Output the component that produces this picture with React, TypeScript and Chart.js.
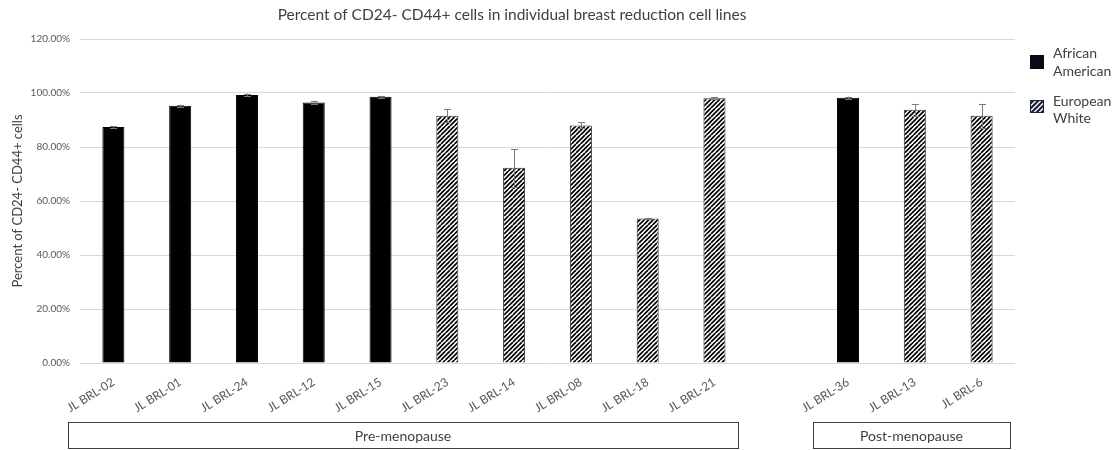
import { useEffect, useRef } from "react";
import { Chart, registerables } from "chart.js";

Chart.register(...registerables);

// Cell lines along the x axis; the empty slot separates the two menopause groups
const cellLines = [
  "JL BRL-02", "JL BRL-01", "JL BRL-24", "JL BRL-12", "JL BRL-15",
  "JL BRL-23", "JL BRL-14", "JL BRL-08", "JL BRL-18", "JL BRL-21",
  "",
  "JL BRL-36", "JL BRL-13", "JL BRL-6",
];

// Percent of CD24- CD44+ cells, split by donor ancestry
const africanAmerican = [87.4, 95.3, 99.3, 96.5, 98.6, null, null, null, null, null, null, 98.2, null, null];
const europeanWhite = [null, null, null, null, null, 91.6, 72.3, 88.0, 53.5, 98.1, null, null, 93.8, 91.6];

// Standard error for each cell line
const errorValues = [0.3, 0.4, 0.5, 0.6, 0.4, 2.5, 7.0, 1.1, 0.3, 0.4, null, 0.5, 2.2, 4.4];

const yTickValues = [0, 20, 40, 60, 80, 100, 120];

const groupLabels = ["Pre-menopause", "Post-menopause"];
const legendLabels = [["African", "American"], ["European", "White"]];

const chartTitle = "Percent of CD24- CD44+ cells in individual breast reduction cell lines";
const yAxisTitle = "Percent of CD24- CD44+ cells";

const FONT = "Lato, 'Open Sans', sans-serif";
const TEXT = "#404040";
const TICK = "#595959";

// Diagonal "/" hatching with a 4.5px period
function makeHatch(color: string, lineWidth: number) {
  const size = 9;
  const c = document.createElement("canvas");
  c.width = size;
  c.height = size;
  const g = c.getContext("2d")!;
  g.fillStyle = "#ffffff";
  g.fillRect(0, 0, size, size);
  g.strokeStyle = color;
  g.lineWidth = lineWidth;
  g.beginPath();
  for (let k = -9; k <= 27; k += 4.5) {
    g.moveTo(k, 0);
    g.lineTo(k - size, size);
  }
  g.stroke();
  return g.createPattern(c, "repeat")!;
}

// Error bars, title, axis title, legend and group boxes
const decorations = {
  id: "decorations",
  afterDatasetsDraw(chart: any) {
    const { ctx } = chart;
    const x = chart.scales.x;
    const y = chart.scales.y;
    ctx.save();
    ctx.strokeStyle = "#7a7a7a";
    ctx.lineWidth = 1;
    errorValues.forEach((err, i) => {
      const v = africanAmerican[i] ?? europeanWhite[i];
      if (v == null || err == null) return;
      const px = Math.round(x.getPixelForValue(i)) + 0.5;
      const top = y.getPixelForValue(v + err);
      const bot = y.getPixelForValue(v - err);
      ctx.beginPath();
      ctx.moveTo(px, top);
      ctx.lineTo(px, bot);
      ctx.moveTo(px - 3.5, Math.round(top) + 0.5);
      ctx.lineTo(px + 3.5, Math.round(top) + 0.5);
      ctx.moveTo(px - 3.5, Math.round(bot) + 0.5);
      ctx.lineTo(px + 3.5, Math.round(bot) + 0.5);
      ctx.stroke();
    });
    ctx.restore();
  },
  afterDraw(chart: any) {
    const { ctx } = chart;
    ctx.save();
    ctx.textBaseline = "middle";

    // Title
    ctx.fillStyle = TEXT;
    ctx.textAlign = "center";
    ctx.font = `15.5px ${FONT}`;
    ctx.fillText(chartTitle, 512, 15);

    // Y axis title
    ctx.save();
    ctx.translate(18, (chart.chartArea.top + chart.chartArea.bottom) / 2);
    ctx.rotate(-Math.PI / 2);
    ctx.font = `13px ${FONT}`;
    ctx.fillText(yAxisTitle, 0, 0);
    ctx.restore();

    // Legend
    ctx.textAlign = "left";
    ctx.font = `14px ${FONT}`;
    ctx.fillStyle = "#0a0a16";
    ctx.fillRect(1030, 55, 14, 14);
    ctx.fillStyle = TEXT;
    ctx.fillText(legendLabels[0][0], 1053, 53);
    ctx.fillText(legendLabels[0][1], 1053, 71);

    ctx.save();
    ctx.beginPath();
    ctx.rect(1030, 100, 14, 13);
    ctx.clip();
    ctx.fillStyle = "#ffffff";
    ctx.fillRect(1030, 100, 14, 13);
    ctx.strokeStyle = "#1c2238";
    ctx.lineWidth = 2.2;
    ctx.beginPath();
    for (let k = -14; k < 28; k += 5) {
      ctx.moveTo(1030 + k, 113);
      ctx.lineTo(1030 + k + 13, 100);
    }
    ctx.stroke();
    ctx.restore();
    ctx.strokeStyle = "#1c2238";
    ctx.lineWidth = 1;
    ctx.strokeRect(1030.5, 100.5, 13, 12);
    ctx.fillStyle = TEXT;
    ctx.fillText(legendLabels[1][0], 1053, 101);
    ctx.fillText(legendLabels[1][1], 1053, 118);

    // Menopause group boxes
    const boxes = [
      { label: groupLabels[0], left: 68, right: 738 },
      { label: groupLabels[1], left: 813, right: 1010 },
    ];
    ctx.strokeStyle = "#404040";
    ctx.lineWidth = 1;
    ctx.textAlign = "center";
    ctx.font = `14px ${FONT}`;
    boxes.forEach((b) => {
      ctx.strokeRect(b.left + 0.5, 422.5, b.right - b.left, 26);
      ctx.fillStyle = TEXT;
      ctx.fillText(b.label, (b.left + b.right) / 2, 436);
    });
    ctx.restore();
  },
};

export default function App() {
  const canvasRef = useRef<HTMLCanvasElement | null>(null);

  useEffect(() => {
    document.body.style.margin = "0";
    const canvas = canvasRef.current!;
    const hatch = makeHatch("#000000", 1.7);

    const chart = new Chart(canvas, {
      type: "bar",
      data: {
        labels: cellLines,
        datasets: [
          {
            label: "African American",
            data: africanAmerican,
            backgroundColor: "#000000",
            borderColor: "#000000",
            borderWidth: 1,
            grouped: false,
            barPercentage: 0.33,
            categoryPercentage: 1,
          },
          {
            label: "European White",
            data: europeanWhite,
            backgroundColor: hatch,
            borderColor: "#333333",
            borderWidth: 1,
            grouped: false,
            barPercentage: 0.33,
            categoryPercentage: 1,
          },
        ],
      },
      options: {
        responsive: false,
        animation: false,
        layout: { padding: { top: 39, right: 102, left: 0, bottom: 0 } },
        plugins: {
          legend: { display: false },
          tooltip: { enabled: false },
          title: { display: false },
        },
        scales: {
          x: {
            grid: { display: false, drawTicks: false },
            border: { display: false },
            ticks: {
              autoSkip: false,
              minRotation: 32,
              maxRotation: 32,
              color: TICK,
              padding: 12,
              font: { family: FONT, size: 12 },
            },
            afterFit: (s: any) => {
              s.height = 87;
            },
          },
          y: {
            min: 0,
            max: 120,
            afterBuildTicks: (s: any) => {
              s.ticks = yTickValues.map((v) => ({ value: v }));
            },
            ticks: {
              color: TICK,
              padding: 10,
              font: { family: FONT, size: 10 },
              callback: (v: any) => Number(v).toFixed(2) + "%",
            },
            grid: { color: "#d9d9d9", drawTicks: false },
            border: { display: false },
            afterFit: (s: any) => {
              s.width = 80;
            },
          },
        },
      },
      plugins: [decorations],
    } as any);

    return () => chart.destroy();
  }, []);

  return (
    <div style={{ width: 1117, height: 450, background: "#ffffff" }}>
      <canvas ref={canvasRef} width={1117} height={450} />
    </div>
  );
}
